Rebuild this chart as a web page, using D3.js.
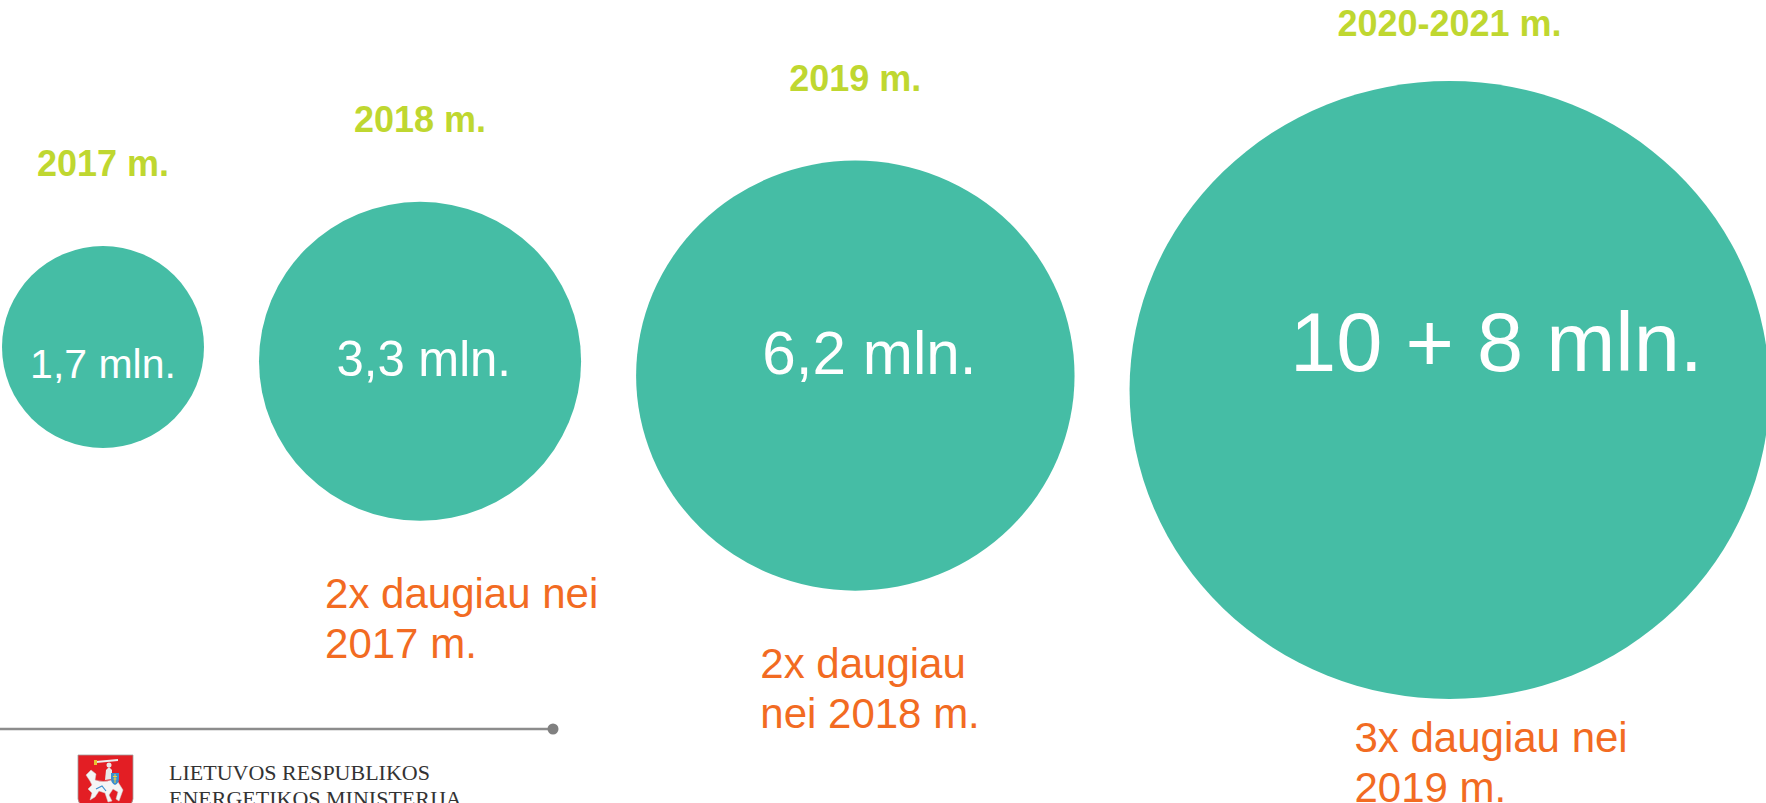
<!DOCTYPE html>
<html>
<head>
<meta charset="utf-8">
<script src="https://cdn.jsdelivr.net/npm/d3@7/dist/d3.min.js"></script>
<style>
  html, body { margin: 0; padding: 0; background: #fff; overflow: hidden; }
  svg { display: block; }
</style>
</head>
<body>
<div id="chart"></div>
<script>
// data
const periods     = ["2017 m.", "2018 m.", "2019 m.", "2020-2021 m."];
const values      = [1.7, 3.3, 6.2, 18];
const valueLabels = ["1,7 mln.", "3,3 mln.", "6,2 mln.", "10 + 8 mln."];
const notes       = [[], ["2x daugiau nei", "2017 m."], ["2x daugiau", "nei 2018 m."], ["3x daugiau nei", "2019 m."]];
const footerLines = ["LIETUVOS RESPUBLIKOS", "ENERGETIKOS MINISTERIJA"];

const W = 1766, H = 803;
const teal = "#45bda5", lime = "#bfd730", orange = "#f26b22";
const sans = "'Liberation Sans', Arial, sans-serif";

const svg = d3.select("#chart").append("svg")
  .attr("width", W).attr("height", H)
  .attr("viewBox", [0, 0, W, H]);

// bubble size grows with the log of the value
const r = d3.scaleLog().domain([1.7, 18]).range([101, 309]);
const t = d3.scaleLog().domain([1.7, 18]).range([0, 1]);
const fontSize = d3.scalePow().exponent(1.3).domain([0, 1]).range([41, 83]);
const cyScale = d3.scaleLinear().domain([0, periods.length - 1]).range([347, 390]);

// bubbles (slightly wider than tall) sit side by side with a constant gap
const gap = 55;
let cursor = 2;
const items = values.map((v, i) => {
  const ry = r(v);
  const rx = ry * (1 + (ry - 101) * 0.00017);
  const cx = cursor + rx;
  cursor = cx + rx + gap;
  return { i, v, rx, ry, cx, cy: cyScale(i), tt: t(v),
           period: periods[i], label: valueLabels[i], note: notes[i] };
});

const item = svg.append("g").selectAll(".item").data(items).join("g").attr("class", "item");

item.append("ellipse")
  .attr("cx", d => d.cx)
  .attr("cy", d => d.cy)
  .attr("rx", d => d.rx)
  .attr("ry", d => d.ry)
  .attr("fill", teal);

// period labels above
item.append("text")
  .attr("x", d => d.cx)
  .attr("y", d => Math.max(d.cy - d.ry - 70, 36))
  .attr("text-anchor", "middle")
  .attr("font-family", sans)
  .attr("font-weight", 700)
  .attr("font-size", 36)
  .attr("fill", lime)
  .text(d => d.period);

// value inside
item.append("text")
  .attr("x", d => d.cx + d.tt * d.tt * 47)
  .attr("y", d => 378 - d.tt * 7)
  .attr("text-anchor", "middle")
  .attr("font-family", sans)
  .attr("font-size", d => fontSize(d.tt))
  .attr("fill", "#fff")
  .text(d => d.label);

// growth notes below
const lineH = 50;
item.append("text")
  .attr("font-family", sans)
  .attr("font-size", 42)
  .attr("fill", orange)
  .each(function(d) {
    const y0 = Math.min(d.cy + d.ry + 87, H - lineH - 1);
    d3.select(this).selectAll("tspan")
      .data(d.note)
      .join("tspan")
      .attr("x", d.cx - 95)
      .attr("y", (s, k) => y0 + k * lineH)
      .text(s => s);
  });

// footer
const foot = svg.append("g");
foot.append("line")
  .attr("x1", 0).attr("x2", 553)
  .attr("y1", 729).attr("y2", 729)
  .attr("stroke", "#8c8c8c").attr("stroke-width", 2.5);
foot.append("circle")
  .attr("cx", 553).attr("cy", 729).attr("r", 5.5)
  .attr("fill", "#808080");

// coat of arms (simplified Vytis)
const arms = foot.append("g").attr("transform", "translate(78,755)");
arms.append("path")
  .attr("d", "M0,0 H55 V44 Q55,54 27.5,58 Q0,54 0,44 Z")
  .attr("fill", "#e31e24").attr("stroke", "#a0a0a0").attr("stroke-width", 0.8);
arms.append("path")
  .attr("d", "M8,20 L13,15 L18,19 L17,25 Q25,28 34,25 L40,27 L45,35 L41,46 L38,44 L40,37 L35,34 L31,40 L34,46 L30,47 L27,38 L21,36 L17,42 L12,45 L14,38 L10,34 L14,30 L12,26 Z")
  .attr("fill", "#f5f5f5").attr("stroke", "#cfcfcf").attr("stroke-width", 0.5);
arms.append("path")
  .attr("d", "M27,25 L28,15 L31,12 L34,15 L34,24 Z")
  .attr("fill", "#e8e8e8");
arms.append("circle").attr("cx", 31).attr("cy", 10).attr("r", 2.5).attr("fill", "#e8e8e8");
arms.append("line")
  .attr("x1", 18).attr("y1", 7).attr("x2", 40).attr("y2", 5)
  .attr("stroke", "#ededed").attr("stroke-width", 1.8);
arms.append("rect").attr("x", 16).attr("y", 5).attr("width", 3).attr("height", 5).attr("fill", "#e8c431");
arms.append("path")
  .attr("d", "M33,18 H41 V24 Q41,28 37,30 Q33,28 33,24 Z")
  .attr("fill", "#3a8fd0");
arms.append("path")
  .attr("d", "M37,19 V28 M35,21.5 H39 M35.5,24 H38.5")
  .attr("stroke", "#f2d23a").attr("stroke-width", 1);
arms.append("path")
  .attr("d", "M18,34 L24,31 L28,36")
  .attr("fill", "none").attr("stroke", "#3a8fd0").attr("stroke-width", 1.2);

foot.selectAll("text.ministry")
  .data(footerLines)
  .join("text")
  .attr("class", "ministry")
  .attr("x", 169)
  .attr("y", (d, k) => 780 + k * 26)
  .attr("font-family", "'Liberation Serif', 'Times New Roman', serif")
  .attr("font-size", 22)
  .attr("fill", "#333")
  .text(d => d);
</script>
</body>
</html>
